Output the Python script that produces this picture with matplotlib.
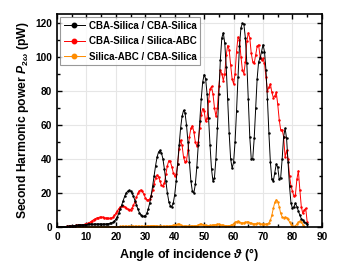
import numpy as np
import matplotlib.pyplot as plt
from matplotlib.ticker import MultipleLocator

# angles (deg), 0.5 deg step
angle = np.arange(0, 85.5, 0.5)
angle_o = np.arange(0, 84.5, 0.5)

cba_cba = [0, 0, 0.1, 0.1, 0.2, 0.2, 0.3, 0.4, 0.5, 0.6, 0.7, 0.8, 0.9, 1.0, 1.1, 1.2, 1.3, 1.3, 1.4, 1.5,
           1.5, 1.6, 1.6, 1.7, 1.7, 1.7, 1.8, 1.8, 1.8, 1.8, 1.8, 1.8, 1.8, 1.8, 1.9, 2.0, 2.1, 2.4, 2.8, 3.5,
           4.5, 6.0, 8.0, 10.5, 13, 15.5, 18, 20, 21, 21.5, 21, 20, 18, 15.5, 13, 10.5, 8.5, 7.2, 6.5, 6.3,
           6.5, 8, 10.5, 14, 18.5, 24, 30, 36, 41, 44, 45, 43.5, 40, 34, 27, 20, 15, 12.5, 12, 14,
           19, 27, 37, 48, 58, 65, 68.5, 67, 60, 50, 38, 27, 21, 20, 25, 35, 48, 62, 75, 85,
           89.5, 87, 78, 64, 48, 34, 27, 29, 40, 58, 78, 98, 111, 114, 108, 94, 75, 55, 40, 34.5,
           38, 50, 68, 88, 106, 117, 119.5, 119, 111, 96, 75, 53, 40, 40, 52, 70, 87, 97, 99, 103,
           107, 103, 92, 75, 55, 38, 28, 27, 32, 37, 35, 28, 29, 40, 53, 58, 52, 38, 24, 14,
           11, 12, 14, 12, 9.5, 7, 5, 4, 3, 2.5, 2]

cba_abc = [0, 0, 0.1, 0.1, 0.2, 0.3, 0.3, 0.4, 0.5, 0.6, 0.7, 0.8, 0.9, 1.0, 1.1, 1.2, 1.3, 1.4, 1.5, 1.6,
           1.8, 2.1, 2.6, 3.2, 3.8, 4.4, 4.9, 5.3, 5.6, 5.8, 5.8, 5.8, 5.6, 5.4, 5.2, 5.1, 5.1, 5.3, 5.8, 6.8,
           8.0, 9.5, 10.8, 11.8, 12.3, 12.4, 12.0, 11.2, 10.5, 10.2, 10.3, 11.2, 12.8, 15, 17.5, 19.8, 21.3, 21.8, 21, 19.3,
           17.3, 16, 15.8, 16.5, 18.5, 21.5, 25.5, 29, 30.5, 29.5, 27, 24.5, 24, 26, 31, 36, 39, 38.5, 35.5, 32,
           30, 31, 37, 46, 51, 48, 41, 38, 39, 45, 53, 58, 59.5, 56, 50, 47.5, 50, 58, 66, 69.5,
           68, 62, 64, 74, 81, 82.5, 78, 70, 65, 70, 83, 92, 90, 86, 90, 101, 106.5, 104, 95, 87,
           84, 90, 103, 111.5, 110, 100, 92, 90, 97, 109, 114, 111, 102, 97, 96, 101, 106, 107, 100, 98,
           99, 96, 88, 80, 82, 84, 79, 76, 77, 79, 72, 63, 57, 57, 53, 41, 45, 40, 30, 24,
           21, 18, 19, 28, 33, 22, 12, 8, 10, 11, 3]

abc_cba = [0, 0, 0, 0, 0.05, 0.05, 0.05, 0.1, 0.1, 0.1, 0.1, 0.1, 0.15, 0.15, 0.15, 0.15, 0.2, 0.2, 0.2, 0.2,
           0.2, 0.2, 0.25, 0.25, 0.25, 0.25, 0.25, 0.3, 0.3, 0.3, 0.3, 0.3, 0.3, 0.3, 0.3, 0.3, 0.3, 0.3, 0.3, 0.3,
           0.3, 0.3, 0.3, 0.35, 0.35, 0.35, 0.35, 0.35, 0.35, 0.35, 0.4, 0.4, 0.4, 0.4, 0.4, 0.4, 0.4, 0.4, 0.4, 0.4,
           0.4, 0.5, 0.6, 0.7, 0.8, 0.9, 0.9, 0.8, 0.7, 0.5, 0.4, 0.4, 0.4, 0.5, 0.6, 0.6, 0.6, 0.7, 0.9, 1.0,
           1.2, 1.5, 1.8, 1.6, 1.2, 0.9, 0.6, 0.5, 0.5, 0.6, 0.6, 0.7, 0.8, 0.8, 0.7, 0.9, 1.3, 1.6, 1.8, 1.5,
           1.2, 1.0, 0.9, 0.9, 1.0, 1.0, 1.0, 1.2, 1.5, 1.7, 1.8, 1.5, 1.2, 1.0, 0.8, 0.8, 0.8, 0.8, 1.0, 1.4,
           2.0, 2.7, 3.2, 3.5, 3.0, 2.6, 2.4, 2.6, 2.8, 3.0, 3.0, 2.6, 2.3, 2.0, 1.8, 2.0, 2.2, 2.2, 2.0, 1.8,
           1.6, 1.6, 1.8, 2.0, 2.5, 4, 7, 11, 14.5, 16, 15, 12, 8, 6, 5.5, 5.8, 5.5, 4.5, 3, 1.8,
           0.8, 0.3, 0.8, 1.8, 2.8, 3.5, 3.2, 1.5, 0.3]

plt.rcParams['font.family'] = ['Liberation Sans', 'DejaVu Sans']
plt.rcParams['font.weight'] = 'bold'
plt.rcParams['mathtext.fontset'] = 'custom'
plt.rcParams['mathtext.it'] = 'Liberation Sans:bold:italic'
plt.rcParams['mathtext.rm'] = 'Liberation Sans:bold'
plt.rcParams['mathtext.bf'] = 'Liberation Sans:bold'

fig = plt.figure(figsize=(3.41, 2.70), dpi=100)
ax = fig.add_axes([0.167, 0.159, 0.777, 0.789])

ax.plot(angle, cba_cba, color="black", lw=0.7, marker="o", ms=0.8, label="CBA-Silica / CBA-Silica", zorder=3)
ax.plot(angle, cba_abc, color="#ff0000", lw=0.7, marker="o", ms=0.8, label="CBA-Silica / Silica-ABC", zorder=2)
ax.plot(angle_o, abc_cba, color="#ff8c00", lw=0.7, marker="o", ms=0.8, label="Silica-ABC / CBA-Silica", zorder=1)

ax.set_xlim(0, 90)
ax.set_ylim(0, 125)
ax.xaxis.set_major_locator(MultipleLocator(10))
ax.xaxis.set_minor_locator(MultipleLocator(5))
ax.yaxis.set_major_locator(MultipleLocator(20))
ax.yaxis.set_minor_locator(MultipleLocator(10))
ax.tick_params(which="both", direction="in", top=True, right=True, labelsize=7.3, width=1)
ax.tick_params(which="major", length=3.5)
ax.tick_params(which="minor", length=2)
ax.grid(True, color="#e6e6e6", lw=0.8, zorder=0)
ax.set_axisbelow(True)
for s in ax.spines.values():
    s.set_linewidth(1.2)

ax.set_xlabel(r"Angle of incidence $\vartheta$ (°)", fontsize=9, fontweight="bold", labelpad=3)
ax.set_ylabel(r"Second Harmonic power $P_{2\omega}$ (pW)", fontsize=8.7, fontweight="bold", labelpad=3)

leg = ax.legend(loc="upper left", fontsize=7, frameon=True, fancybox=False, edgecolor="#808080",
                handlelength=2.2, handletextpad=0.4, borderpad=0.35, labelspacing=0.55, borderaxespad=0.35,
                markerscale=4)
leg.get_frame().set_linewidth(0.8)
for t in leg.get_texts():
    t.set_fontweight("bold")

fig.savefig("out.png", dpi=100)
